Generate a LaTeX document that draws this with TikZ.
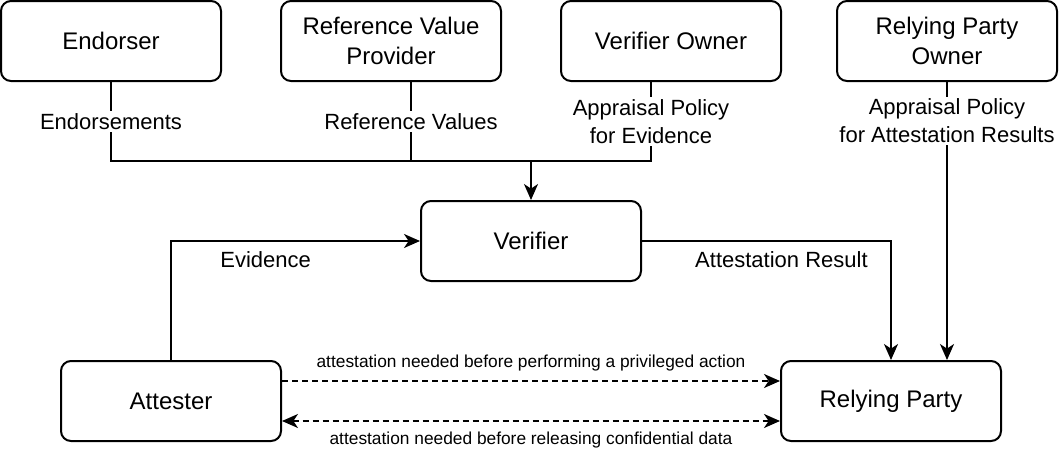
\documentclass[tikz,border=0pt]{standalone}
\usepackage{fontspec}
\setmainfont{Liberation Sans}
\usetikzlibrary{arrows.meta}

\tikzset{
  box/.style={draw, line width=1.5pt, rounded corners=7.5pt, minimum width=165pt, minimum height=60pt, align=center, font=\fontsize{18}{22.5}\selectfont},
  lbl/.style={fill=white, inner sep=1.5pt, align=center, font=\fontsize{16.5}{21}\selectfont},
  note/.style={inner sep=1.5pt, font=\fontsize{13}{15}\selectfont},
  conn/.style={line width=1.5pt},
  tip/.tip={Stealth[length=12pt,width=10.5pt,inset=3.5pt]},
  arr/.style={conn, -tip},
  dashline/.style={conn, dash pattern=on 4.5pt off 3pt},
}

\begin{document}
\begin{tikzpicture}[x=0.75pt,y=0.75pt,yscale=-1,xscale=1]
\useasboundingbox (0,0) rectangle (1060,454);

\node [box] (endorser) at (111,41) {Endorser};
\node [box] (rvp) at (391,41) {Reference Value\\Provider};
\node [box] (vowner) at (671,41) {Verifier Owner};
\node [box] (rpowner) at (947,41) {Relying Party\\Owner};
\node [box] (verifier) at (531,241) {Verifier};
\node [box] (attester) at (171,401) {Attester};
\node [box] (rp) at (891,401) {Relying Party};

\coordinate (join) at (531,161);

% inputs to the verifier
\draw [conn] (endorser) -- node [lbl] {Endorsements} (endorser |- join) -- (join);
\draw [conn] ([xshift=15pt]rvp.south) -- node [lbl] {Reference Values} ([xshift=15pt]rvp.south |- join);
\draw [conn] ([xshift=-15pt]vowner.south) -- node [lbl] {Appraisal Policy\\for Evidence} ([xshift=-15pt]vowner.south |- join) -- (join);
\draw [arr] (join) -- (verifier);

% relying party owner
\draw [arr] (rpowner) -- node [lbl, pos=0.14] {Appraisal Policy\\for Attestation Results} (rpowner |- rp.north);

% evidence and result
\draw [arr] (attester) |- node [lbl, pos=0.69, below=6pt] {Evidence} (verifier);
\draw [arr] (verifier) -| node [lbl, pos=0.28, below=6pt] {Attestation Result} (rp);

% between attester and relying party
\draw [dashline, -tip] ([yshift=-15pt]attester.east) -- node [note, above=5pt] {attestation needed before performing a privileged action} ([yshift=-15pt]rp.west);
\draw [dashline, tip-tip] ([yshift=15pt]attester.east) -- node [note, below=6pt] {attestation needed before releasing confidential data} ([yshift=15pt]rp.west);

\end{tikzpicture}
\end{document}
